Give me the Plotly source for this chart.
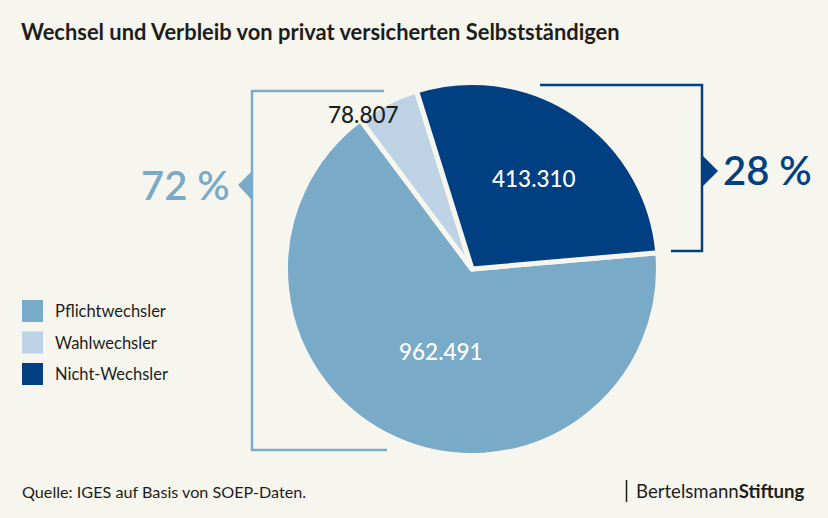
import plotly.graph_objects as go

W = 828
H = 518
BG = '#f7f6ee'
TEXT = '#1d1d1b'

categories = ['Pflichtwechsler', 'Wahlwechsler', 'Nicht-Wechsler']
values = [962491, 78807, 413310]
colors = ['#79abc8', '#bdd3e5', '#003f82']
value_labels = ['962.491', '78.807', '413.310']
label_colors = ['white', TEXT, 'white']
label_x = [441, 363, 534]
label_y = [351, 114, 178]
share_labels = ['72 %', '28 %']

title = 'Wechsel und Verbleib von privat versicherten Selbstständigen'
source = 'Quelle: IGES auf Basis von SOEP-Daten.'

# pie position in pixels
cx, cy, r = 472, 269, 186.5


def px(x):
    return x / W


def py(y):
    return 1 - y / H


def text(x, y, s, size, color=TEXT, anchor='left', weight=400):
    return dict(x=px(x), y=py(y), xref='paper', yref='paper', text=s, showarrow=False,
                xanchor=anchor, yanchor='middle', borderpad=0, borderwidth=0,
                font=dict(size=size, color=color, weight=weight))


def line(x0, y0, x1, y1, color, width=2.5):
    return dict(type='line', xref='paper', yref='paper', x0=px(x0), y0=py(y0), x1=px(x1), y1=py(y1),
                line=dict(color=color, width=width))


def path(points, color):
    d = 'M' + ' L'.join(f'{px(x)},{py(y)}' for x, y in points) + ' Z'
    return dict(type='path', xref='paper', yref='paper', path=d, fillcolor=color, line=dict(width=0))


pie = go.Pie(
    labels=categories,
    values=values,
    sort=False,
    direction='clockwise',
    rotation=85,
    textinfo='none',
    hoverinfo='label+value',
    showlegend=False,
    marker=dict(colors=colors, line=dict(color=BG, width=5)),
    domain=dict(x=[px(cx - r), px(cx + r)], y=[py(cy + r), py(cy - r)]),
)

shapes = [
    # left bracket
    line(252, 91, 384, 91, colors[0]),
    line(252, 90, 252, 451, colors[0]),
    line(252, 450, 387, 450, colors[0]),
    path([(251, 172), (238, 185), (251, 199)], colors[0]),
    # right bracket
    line(540, 85, 703, 85, colors[2]),
    line(702, 84, 702, 252, colors[2]),
    line(671, 251, 703, 251, colors[2]),
    path([(703, 156), (718, 171), (703, 186)], colors[2]),
    # logo divider
    line(626.5, 480, 626.5, 502, TEXT, 1.5),
]

annotations = [
    text(21, 32, title, 21.9, weight=700),
    text(22, 491, source, 16.2),
    text(141, 185, share_labels[0], 40, colors[0], weight=600),
    text(723, 170, share_labels[1], 40, colors[2], weight=600),
    text(636, 491, 'Bertelsmann<b>Stiftung</b>', 18.6),
]

for label, col, x, y in zip(value_labels, label_colors, label_x, label_y):
    annotations.append(text(x, y, label, 22.5, col, 'center', weight=500))

for i, name in enumerate(categories):
    y = 311 + i * 31.5
    shapes.append(dict(type='rect', xref='paper', yref='paper', x0=px(22), x1=px(43), y0=py(y - 11), y1=py(y + 11),
                       fillcolor=colors[i], line=dict(width=0)))
    annotations.append(text(55, y, name, 16.5))

layout = go.Layout(
    width=W,
    height=H,
    margin=dict(l=0, r=0, t=0, b=0),
    paper_bgcolor=BG,
    font=dict(family='Lato', color=TEXT),
    shapes=shapes,
    annotations=annotations,
)

fig = go.Figure(data=[pie], layout=layout)
# browser default body margin would shift the chart by 8px
fig.write_html('out.html', config=dict(displayModeBar=False),
               post_script="document.body.style.margin='0';document.body.style.overflow='hidden';")
